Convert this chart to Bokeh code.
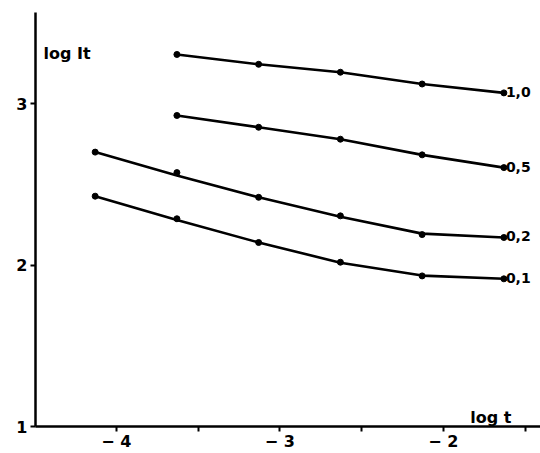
from bokeh.plotting import figure
from bokeh.models import FixedTicker, Label, Range1d
from bokeh.embed import file_html
from bokeh.resources import INLINE

# ---- data ----
log_t = [-4.13, -3.63, -3.13, -2.63, -2.13, -1.63]

# curve 1,0 and 0,5 start at the second time value
t_10 = log_t[1:]
y_10 = [3.305, 3.244, 3.195, 3.122, 3.067]
t_05 = log_t[1:]
y_05 = [2.927, 2.854, 2.780, 2.683, 2.604]

t_02 = log_t
pts_02 = [2.700, 2.573, 2.420, 2.305, 2.189, 2.171]
line_02 = [2.700, 2.555, 2.420, 2.300, 2.195, 2.171]

t_01 = log_t
pts_01 = [2.427, 2.287, 2.140, 2.018, 1.933, 1.915]
line_01 = [2.427, 2.280, 2.140, 2.015, 1.935, 1.915]

curve_names = ["1,0", "0,5", "0,2", "0,1"]

x_ticks = [-4, -3, -2]
x_minor = [-3.5, -2.5, -1.5]
x_tick_labels = {-4: "\u2212 4", -3: "\u2212 3", -2: "\u2212 2"}
y_ticks = [1, 2, 3]

FONT = "DejaVu Sans"

p = figure(width=540, height=453, output_backend="svg", toolbar_location=None,
           x_range=Range1d(-4.495, -1.406), y_range=Range1d(1.0, 3.565),
           min_border_left=35, min_border_right=0, min_border_top=12,
           min_border_bottom=21)
p.outline_line_color = None
p.grid.visible = False
p.background_fill_color = "white"

for ax in (p.xaxis[0], p.yaxis[0]):
    ax.axis_line_width = 2.5
    ax.axis_line_color = "black"
    ax.major_tick_line_width = 2
    ax.major_tick_in = 0
    ax.major_tick_out = 5
    ax.minor_tick_line_width = 2
    ax.minor_tick_in = 0
    ax.minor_tick_out = 5
    ax.axis_label_standoff = 0
    ax.major_label_text_font = FONT
    ax.major_label_text_font_style = "bold"
    ax.major_label_text_font_size = "16px"
    ax.major_label_text_color = "black"

p.xaxis.ticker = FixedTicker(ticks=x_ticks, minor_ticks=x_minor)
p.xaxis.major_label_overrides = x_tick_labels
p.xaxis.major_label_standoff = 0
p.yaxis.ticker = FixedTicker(ticks=y_ticks, minor_ticks=[])
p.yaxis.major_label_standoff = 3

lw = 2.6
p.line(t_10, y_10, line_width=lw, color="black")
p.scatter(t_10, y_10, size=6, color="black")
p.line(t_05, y_05, line_width=lw, color="black")
p.scatter(t_05, y_05, size=6, color="black")
p.line(t_02, line_02, line_width=lw, color="black")
p.scatter(t_02, pts_02, size=6, color="black")
p.line(t_01, line_01, line_width=lw, color="black")
p.scatter(t_01, pts_01, size=6, color="black")

ends = [(t_10[-1], y_10[-1]), (t_05[-1], y_05[-1]),
        (t_02[-1], line_02[-1]), (t_01[-1], line_01[-1])]
for name, (ex, ey) in zip(curve_names, ends):
    p.add_layout(Label(x=ex, y=ey, text=name, x_offset=2, y_offset=1,
                       text_baseline="middle", text_align="left",
                       text_font=FONT, text_font_style="bold",
                       text_font_size="14px", text_color="black"))

p.add_layout(Label(x=-4.446, y=3.31, text="log It", text_baseline="alphabetic",
                   text_font=FONT, text_font_style="bold",
                   text_font_size="16px", text_color="black"))
p.add_layout(Label(x=-1.835, y=1.055, text="log t", text_baseline="alphabetic",
                   text_font=FONT, text_font_style="bold",
                   text_font_size="16px", text_color="black"))

open("out.html", "w").write(file_html(p, INLINE))
